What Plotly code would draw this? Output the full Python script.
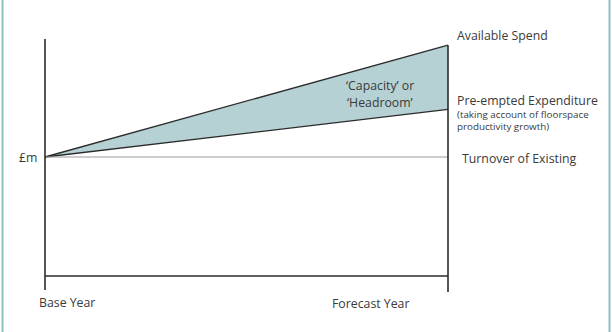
import plotly.graph_objects as go

# Conceptual data (index values)
periods = ["Base Year", "Forecast Year"]
x_pos = [0, 1]
available_spend = [100, 194]
preempted_expenditure = [100, 140]
turnover_existing = [100, 100]

W, H = 612, 332
# pixel anchors
px_x0, px_x1 = 45, 448
px_y_zero, px_y_base = 276, 157
sx = (px_x1 - px_x0)
sy = (px_y_zero - px_y_base) / 100.0
xr = [(0 - px_x0) / sx, (W - px_x0) / sx]
yr = [(px_y_zero - H) / sy, px_y_zero / sy]

def ypx(p):
    return (px_y_zero - p) / sy

ink = "#2b2b2b"
txt = "#3a3a3a"
font = "Open Sans"

fig = go.Figure()
fig.add_trace(go.Scatter(x=x_pos, y=preempted_expenditure, mode="lines",
                         line=dict(color=ink, width=1.3), hoverinfo="skip"))
fig.add_trace(go.Scatter(x=x_pos, y=available_spend, mode="lines", fill="tonexty",
                         fillcolor="#b5d1d3", line=dict(color=ink, width=1.3), hoverinfo="skip"))
fig.add_trace(go.Scatter(x=x_pos, y=turnover_existing, mode="lines",
                         line=dict(color="#9a9a9a", width=1.2), hoverinfo="skip"))

shapes = [
    dict(type="line", xref="x", yref="y", x0=0, x1=0, y0=ypx(290), y1=ypx(39),
         line=dict(color=ink, width=1.6)),
    dict(type="line", xref="x", yref="y", x0=1, x1=1, y0=ypx(292), y1=available_spend[1],
         line=dict(color=ink, width=1.6)),
    dict(type="line", xref="x", yref="y", x0=0, x1=1, y0=0, y1=0,
         line=dict(color=ink, width=1.6)),
    dict(type="line", xref="paper", yref="paper", x0=2.5 / W, x1=2.5 / W, y0=0, y1=1,
         line=dict(color="#8fc1c1", width=2)),
    dict(type="line", xref="paper", yref="paper", x0=609.5 / W, x1=609.5 / W, y0=0, y1=1,
         line=dict(color="#8fc1c1", width=2)),
]

def xpx(p):
    return (p - px_x0) / sx

annots = [
    dict(x=xpx(455), y=ypx(35), text="Available Spend", xanchor="left", size=12.3),
    dict(x=xpx(380), y=ypx(85), text="‘Capacity’ or", xanchor="center", size=12.3),
    dict(x=xpx(380), y=ypx(102), text="‘Headroom’", xanchor="center", size=12.3),
    dict(x=xpx(455), y=ypx(100), text="Pre-empted Expenditure", xanchor="left", size=12.3),
    dict(x=xpx(455), y=ypx(114), text="(taking account of floorspace", xanchor="left", size=9.8),
    dict(x=xpx(455), y=ypx(126.5), text="productivity growth)", xanchor="left", size=9.8),
    dict(x=xpx(460), y=ypx(158), text="Turnover of Existing", xanchor="left", size=12.3),
    dict(x=xpx(39), y=ypx(157), text="£m", xanchor="right", size=12.3),
    dict(x=x_pos[0], y=ypx(302), text=periods[0], xanchor="left", size=12.3, dx=-8),
    dict(x=x_pos[1], y=ypx(303), text=periods[1], xanchor="center", size=12.3, dx=-78),
]
annotations = []
for a in annots:
    x = a["x"] + a.get("dx", 0) / sx
    annotations.append(dict(x=x, y=a["y"], xref="x", yref="y", text=a["text"],
                            showarrow=False, xanchor=a["xanchor"], yanchor="middle",
                            font=dict(family=font, size=a["size"], color=txt)))

fig.update_layout(
    width=W, height=H, margin=dict(l=0, r=0, t=0, b=0),
    paper_bgcolor="white", plot_bgcolor="white", showlegend=False,
    xaxis=dict(range=xr, visible=False, fixedrange=True),
    yaxis=dict(range=yr, visible=False, fixedrange=True),
    shapes=shapes, annotations=annotations,
)
fig.write_html("out.html")
